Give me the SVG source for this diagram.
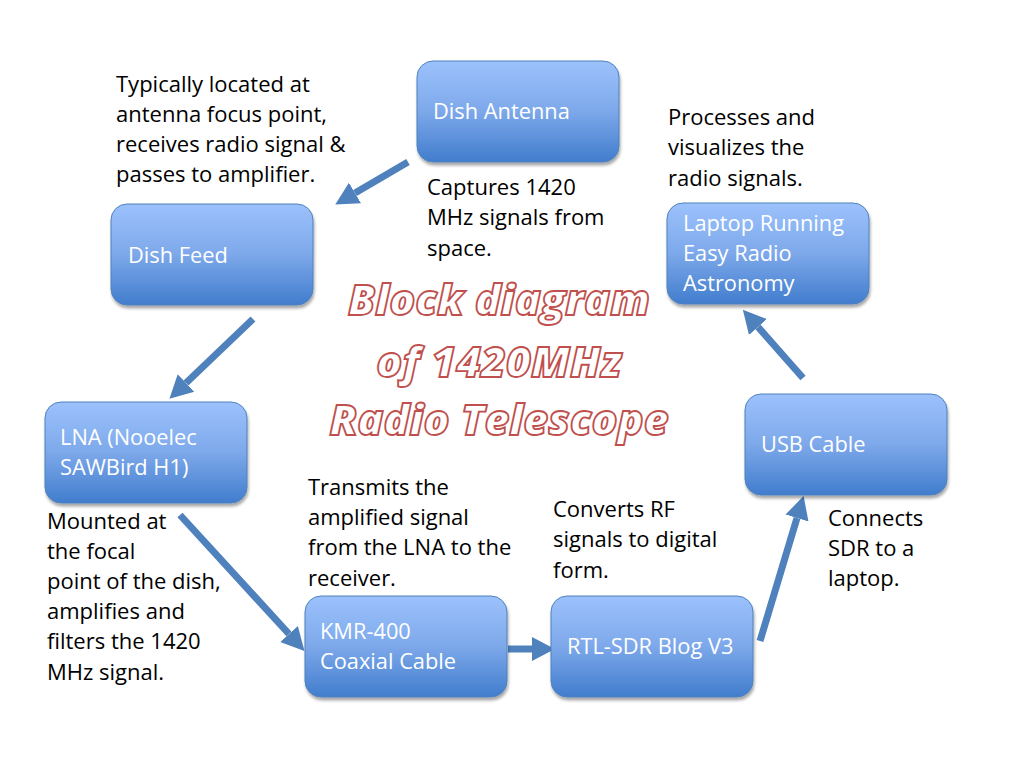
<svg xmlns="http://www.w3.org/2000/svg" width="1010" height="758" viewBox="0 0 1010 758">
<defs>
<linearGradient id="g" x1="0" y1="0" x2="0" y2="1">
<stop offset="0" stop-color="#9CC2FC"/>
<stop offset="0.5" stop-color="#7DA8EA"/>
<stop offset="1" stop-color="#417DCD"/>
</linearGradient>
<filter id="sh" x="-10%" y="-10%" width="120%" height="130%">
<feGaussianBlur in="SourceAlpha" stdDeviation="1.5"/>
<feOffset dx="1" dy="3" result="b"/>
<feComponentTransfer><feFuncA type="linear" slope="0.35"/></feComponentTransfer>
<feMerge><feMergeNode/><feMergeNode in="SourceGraphic"/></feMerge>
</filter>
<marker id="ah" markerUnits="userSpaceOnUse" markerWidth="24" markerHeight="26" refX="0" refY="11" orient="auto" viewBox="0 0 22 22">
<path d="M0,0 L21,11 L0,22 z" fill="#4F81BD"/>
</marker>
</defs>
<style>
.box{fill:url(#g);stroke:#4F81BD;stroke-width:1;filter:url(#sh)}
.nt{font-family:"Open Sans","Noto Sans",sans-serif;font-size:21.8px;fill:#FFFFFF}
.an{font-family:"Open Sans","Noto Sans",sans-serif;font-size:22px;fill:#000000}
.ttl{font-family:"Open Sans","Noto Sans",sans-serif;font-weight:800;font-style:italic;font-size:43px;fill:#FFFFFF;stroke:#C0504D;stroke-width:1.8;text-anchor:middle}
.cn{stroke:#4F81BD;stroke-width:7;fill:none;marker-end:url(#ah)}
</style>
<rect width="1010" height="758" fill="#FFFFFF"/>

<g id="connectors">
<line class="cn" x1="408" y1="162" x2="355" y2="193"/>
<line class="cn" x1="253" y1="319" x2="186" y2="383"/>
<line class="cn" x1="180" y1="515" x2="289" y2="634"/>
<line class="cn" x1="508" y1="649" x2="532" y2="649"/>
<line class="cn" x1="760" y1="641" x2="797" y2="518"/>
<line class="cn" x1="803" y1="378" x2="758" y2="327"/>
</g>

<g id="dish-antenna">
<rect class="box" x="417" y="61" width="202" height="101" rx="16"/>
<text class="nt" x="433" y="119">Dish Antenna</text>
</g>
<g id="dish-feed">
<rect class="box" x="111" y="204" width="202" height="101" rx="16"/>
<text class="nt" x="128" y="263">Dish Feed</text>
</g>
<g id="lna">
<rect class="box" x="45" y="402" width="202" height="101" rx="16"/>
<text class="nt" x="60" y="445">LNA (Nooelec</text>
<text class="nt" x="60" y="475">SAWBird H1)</text>
</g>
<g id="kmr-400">
<rect class="box" x="305" y="596" width="202" height="101" rx="16"/>
<text class="nt" x="320" y="639">KMR-400</text>
<text class="nt" x="320" y="669">Coaxial Cable</text>
</g>
<g id="rtl-sdr">
<rect class="box" x="551" y="596" width="202" height="101" rx="16"/>
<text class="nt" x="567" y="654">RTL-SDR Blog V3</text>
</g>
<g id="usb-cable">
<rect class="box" x="745" y="394" width="202" height="101" rx="16"/>
<text class="nt" x="761" y="452">USB Cable</text>
</g>
<g id="laptop">
<rect class="box" x="667" y="203" width="202" height="101" rx="16"/>
<text class="nt" x="683" y="231">Laptop Running</text>
<text class="nt" x="683" y="261">Easy Radio</text>
<text class="nt" x="683" y="291">Astronomy</text>
</g>

<g id="annotations">
<text class="an" x="116" y="92">Typically located at</text>
<text class="an" x="116" y="122">antenna focus point,</text>
<text class="an" x="116" y="152">receives radio signal &amp;</text>
<text class="an" x="116" y="182">passes to amplifier.</text>

<text class="an" x="427" y="195">Captures 1420</text>
<text class="an" x="427" y="225">MHz signals from</text>
<text class="an" x="427" y="256">space.</text>

<text class="an" x="668" y="125">Processes and</text>
<text class="an" x="668" y="155">visualizes the</text>
<text class="an" x="668" y="186">radio signals.</text>

<text class="an" x="47" y="529">Mounted at</text>
<text class="an" x="47" y="559">the focal</text>
<text class="an" x="47" y="589">point of the dish,</text>
<text class="an" x="47" y="619">amplifies and</text>
<text class="an" x="47" y="649">filters the 1420</text>
<text class="an" x="47" y="680">MHz signal.</text>

<text class="an" x="308" y="495">Transmits the</text>
<text class="an" x="308" y="525">amplified signal</text>
<text class="an" x="308" y="555">from the LNA to the</text>
<text class="an" x="308" y="586">receiver.</text>

<text class="an" x="553" y="517">Converts RF</text>
<text class="an" x="553" y="547">signals to digital</text>
<text class="an" x="553" y="578">form.</text>

<text class="an" x="828" y="526">Connects</text>
<text class="an" x="828" y="556">SDR to a</text>
<text class="an" x="828" y="586">laptop.</text>
</g>

<g id="title">
<text class="ttl" x="499" y="315">Block diagram</text>
<text class="ttl" x="499" y="377">of 1420MHz</text>
<text class="ttl" x="499" y="435">Radio Telescope</text>
</g>
</svg>
